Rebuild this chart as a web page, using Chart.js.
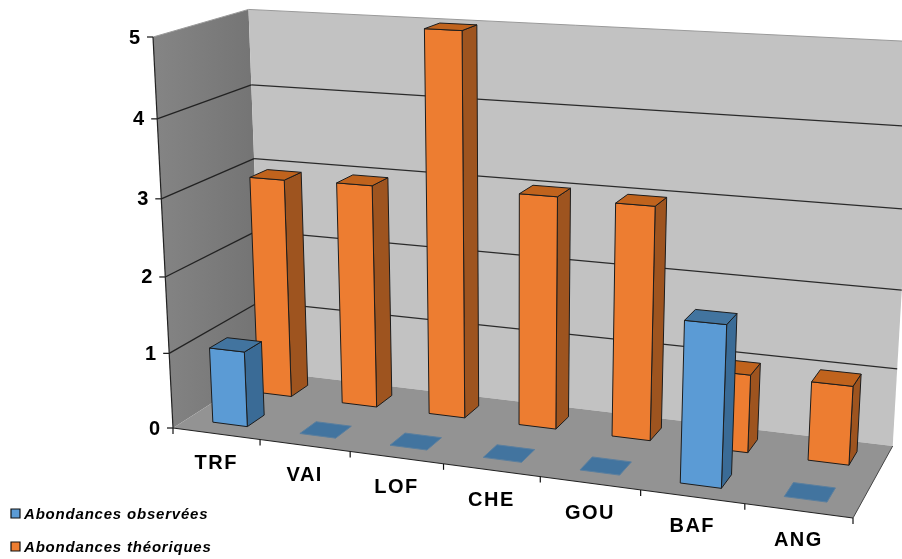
<!DOCTYPE html>
<html lang="fr">
<head>
  <meta charset="UTF-8" />
  <title>Abondances</title>
  <script src="https://cdn.jsdelivr.net/npm/chart.js"></script>
  <style>
    html, body { margin: 0; padding: 0; background: #fff; }
    canvas { display: block; }
  </style>
</head>
<body>
<canvas id="chart" width="902" height="559"></canvas>
<script>
const categories = ['TRF', 'VAI', 'LOF', 'CHE', 'GOU', 'BAF', 'ANG'];
const observed = [1, 0, 0, 0, 0, 2, 0];
const theoretical = [2.95, 2.97, 5, 3.02, 3, 1, 1];
const seriesNames = ['Abondances observées', 'Abondances théoriques'];

// screen position of the plot box corners, u along categories, v into the depth
const frontLeft = [173, 428], frontRight = [853, 518], backRight = [892.7, 446], backLeft = [262, 371];
const topFrontLeft = [153, 37];
const heightPerspective = -0.056;

// depth slot of each series on the floor
const depthSlots = [[0.15, 0.34], [0.66, 0.86]];
const faces = [
  { front: '#5b9bd5', side: '#3a6b96', top: '#42749f' },
  { front: '#ed7d31', side: '#9e541f', top: '#c0631d' }
];

function det(a, b) { return a[0] * b[1] - a[1] * b[0]; }

// perspective map from box coordinates to the screen
function buildProjection() {
  const d1 = [frontRight[0] - backRight[0], frontRight[1] - backRight[1]];
  const d2 = [backLeft[0] - backRight[0], backLeft[1] - backRight[1]];
  const s = [0, 1].map(i => frontLeft[i] - frontRight[i] + backRight[i] - backLeft[i]);
  const a = det(s, d2) / det(d1, d2);
  const b = det(d1, s) / det(d1, d2);
  const B = [0, 1].map(i => frontRight[i] - frontLeft[i] + a * frontRight[i]);
  const C = [0, 1].map(i => backLeft[i] - frontLeft[i] + b * backLeft[i]);
  const c = heightPerspective;
  const D = [0, 1].map(i => topFrontLeft[i] * (1 + c) - frontLeft[i]);
  return (u, v, w) => {
    const q = 1 + a * u + b * v + c * w;
    return [0, 1].map(i => (frontLeft[i] + B[i] * u + C[i] * v + D[i] * w) / q);
  };
}
const project = buildProjection();

function poly(ctx, pts, fill, stroke, lw) {
  ctx.beginPath();
  pts.forEach((p, i) => i ? ctx.lineTo(p[0], p[1]) : ctx.moveTo(p[0], p[1]));
  ctx.closePath();
  if (fill) { ctx.fillStyle = fill; ctx.fill(); }
  if (stroke) { ctx.strokeStyle = stroke; ctx.lineWidth = lw || 1; ctx.stroke(); }
}

function line(ctx, p, q, color, lw) {
  ctx.beginPath();
  ctx.moveTo(p[0], p[1]);
  ctx.lineTo(q[0], q[1]);
  ctx.strokeStyle = color;
  ctx.lineWidth = lw;
  ctx.stroke();
}

function drawBox(ctx, u0, u1, v0, v1, w, face) {
  const edge = '#1c1c1c';
  const f = (u, v, h) => project(u, v, h);
  if (w > 0) {
    poly(ctx, [f(u1, v0, 0), f(u1, v1, 0), f(u1, v1, w), f(u1, v0, w)], face.side, edge, 1);
    poly(ctx, [f(u0, v0, 0), f(u1, v0, 0), f(u1, v0, w), f(u0, v0, w)], face.front, edge, 1);
  }
  poly(ctx, [f(u0, v0, w), f(u1, v0, w), f(u1, v1, w), f(u0, v1, w)], face.top, w > 0 ? edge : '#5a7f9f', 1);
}

const box3d = {
  id: 'box3d',
  beforeDatasetsDraw(chart) {
    const ctx = chart.ctx, area = chart.chartArea, y = chart.scales.y, x = chart.scales.x;
    const wOf = val => (area.bottom - y.getPixelForValue(val)) / area.height;
    const uOf = px => (px - area.left) / area.width;

    // walls and floor
    const wall = ctx.createLinearGradient(topFrontLeft[0], 0, 250, 0);
    wall.addColorStop(0, '#858585');
    wall.addColorStop(1, '#757575');
    poly(ctx, [project(0, 0, 0), project(0, 1, 0), project(0, 1, 1), project(0, 0, 1)], wall);
    poly(ctx, [project(0, 1, 0), project(1, 1, 0), project(1, 1, 1), project(0, 1, 1)], '#c2c2c2');
    poly(ctx, [project(0, 0, 0), project(1, 0, 0), project(1, 1, 0), project(0, 1, 0)], '#939393');

    // grid lines and value axis
    ctx.font = 'bold 20px "Liberation Sans", Arial, sans-serif';
    ctx.textAlign = 'right';
    ctx.textBaseline = 'middle';
    y.ticks.forEach(t => {
      const w = wOf(t.value);
      const a = project(0, 0, w), b = project(0, 1, w), c = project(1, 1, w);
      if (t.value > 0) {
        const top = t.value === y.max;
        line(ctx, a, b, top ? '#9a9a9a' : '#222', top ? 1 : 1.3);
        line(ctx, b, c, top ? '#9a9a9a' : '#2a2a2a', top ? 1 : 1.3);
      }
      line(ctx, a, [a[0] - 6, a[1]], '#111', 1.2);
      ctx.fillStyle = '#000';
      ctx.fillText(t.label, a[0] - 13, a[1] + 1);
    });
    line(ctx, project(0, 0, 0), project(0, 0, 1), '#222', 1.2);

    // category axis
    line(ctx, project(0, 0, 0), project(1, 0, 0), '#222', 1.2);
    line(ctx, project(1, 0, 0), project(1, 1, 0), '#444', 1);
    ctx.textAlign = 'center';
    ctx.letterSpacing = '1.5px';
    categories.forEach((name, i) => {
      const c = project(uOf(x.getPixelForValue(i)), 0, 0);
      ctx.fillStyle = '#000';
      ctx.fillText(name, c[0], c[1] + 30);
    });
    ctx.letterSpacing = '0px';
    for (let i = 0; i <= categories.length; i++) {
      const p = project(i / categories.length, 0, 0);
      line(ctx, p, [p[0], p[1] + 6], '#111', 1.2);
    }

    // rear series first, then the front one
    [1, 0].forEach(ds => {
      chart.getDatasetMeta(ds).data.forEach(bar => {
        const u0 = uOf(bar.x - bar.width / 2), u1 = uOf(bar.x + bar.width / 2);
        drawBox(ctx, u0, u1, depthSlots[ds][0], depthSlots[ds][1], (area.bottom - bar.y) / area.height, faces[ds]);
      });
    });

    // legend
    ctx.textAlign = 'left';
    ctx.font = 'italic bold 15px "Liberation Sans", Arial, sans-serif';
    ctx.letterSpacing = '0.8px';
    chart.data.datasets.forEach((d, i) => {
      const ly = 514 + i * 33;
      poly(ctx, [[11, ly - 5], [20, ly - 5], [20, ly + 4], [11, ly + 4]], d.backgroundColor, '#111', 1.2);
      ctx.fillStyle = '#000';
      ctx.fillText(d.label, 24, ly + 1);
    });
    ctx.letterSpacing = '0px';

    return false; // everything is drawn above, skip the flat bars
  }
};

new Chart(document.getElementById('chart'), {
  type: 'bar',
  data: {
    labels: categories,
    datasets: [
      { label: seriesNames[0], data: observed, backgroundColor: faces[0].front },
      { label: seriesNames[1], data: theoretical, backgroundColor: faces[1].front }
    ]
  },
  options: {
    responsive: false,
    animation: false,
    grouped: false,
    barPercentage: 0.4,
    categoryPercentage: 1,
    layout: { padding: 0 },
    plugins: { legend: { display: false }, tooltip: { enabled: false } },
    scales: {
      x: { display: false, offset: true },
      y: { display: false, min: 0, max: 5, ticks: { stepSize: 1 } }
    }
  },
  plugins: [box3d]
});
</script>
</body>
</html>
